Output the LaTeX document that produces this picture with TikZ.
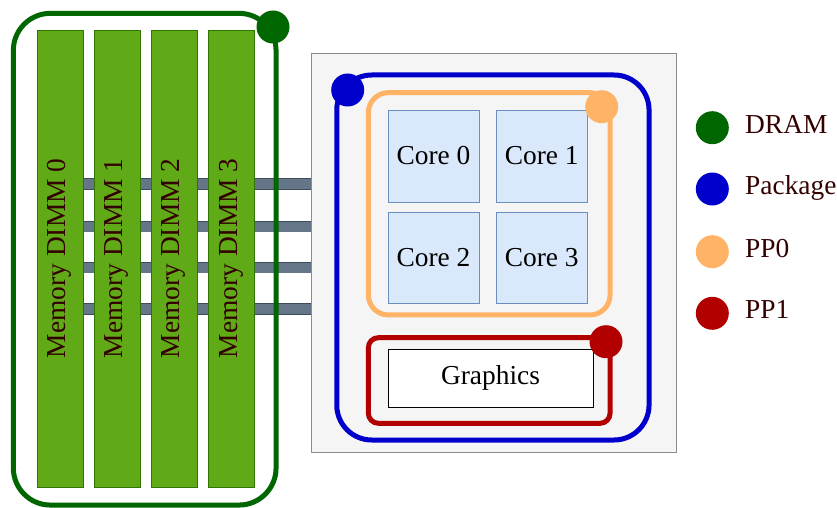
\documentclass[tikz,border=0pt]{standalone}
\usepackage{fontspec}
\setmainfont{Liberation Serif}
\usepackage{tikz}
\usetikzlibrary{shapes,backgrounds,positioning}
\definecolor{dramgreen}{HTML}{006600}
\definecolor{pkgblue}{HTML}{0000CC}
\definecolor{ppzero}{HTML}{FFB366}
\definecolor{ppone}{HTML}{B20000}
\definecolor{dimmfill}{HTML}{60A917}
\definecolor{dimmline}{HTML}{2D7600}
\definecolor{corefill}{HTML}{DAE8FC}
\definecolor{coreline}{HTML}{6C8EBF}
\definecolor{busfill}{HTML}{647687}
\definecolor{busline}{HTML}{3E4B58}
\definecolor{labelbrown}{HTML}{330000}
\tikzset{
  regionbox/.style={ draw, line width=5pt, rectangle, inner sep=0pt, outer sep=0pt }
}
\tikzset{
  dimm/.style={ draw=dimmline, fill=dimmfill, text=labelbrown, rotate=90, inner sep=0pt,
    minimum width=456.7pt, minimum height=46pt }
}
\tikzset{
  core/.style={ draw=coreline, fill=corefill, inner sep=0pt, minimum size=91.6pt }
}
\tikzset{
  dot/.style={ circle, inner sep=0pt, minimum size=33pt }
}
\tikzset{
  bus/.style={ draw=busline, line width=0.8pt, double=busfill, double distance=10pt }
}
\tikzset{
  legtext/.style={ text=labelbrown, inner sep=0pt, anchor=base west }
}

\begin{document}
\begin{tikzpicture}[x=1pt, y=-1pt, font=\fontsize{27.4}{31}\selectfont]
      \useasboundingbox (0,0) rectangle (837,508);

      \node[regionbox, draw=dramgreen, rounded corners=37pt, minimum width=262.7pt, minimum height=491.7pt] (dram) at (144.7, 259.2) {};
      \node[dimm] (dimm0) at (59.7, 258.4) {Memory DIMM 0};
      \node[dimm] (dimm1) at (116.7, 258.4) {Memory DIMM 1};
      \node[dimm] (dimm2) at (173.7, 258.4) {Memory DIMM 2};
      \node[dimm] (dimm3) at (231, 258.4) {Memory DIMM 3};
      \node[dot, fill=dramgreen] (dramdot) at (273, 27) {};

      \node[draw=black!45, fill=black!4, inner sep=0pt, minimum width=365pt, minimum height=398.4pt] (pkg) at (493.2, 252.5) {};
      \node[regionbox, draw=pkgblue, rounded corners=35pt, minimum width=312.3pt, minimum height=365pt] (pkgline) at (492.9, 257.5) {};
      \node[regionbox, draw=ppzero, rounded corners=20pt, minimum width=241.7pt, minimum height=222.3pt] (pp0) at (489.2, 203.8) {};
      \node[regionbox, draw=ppone, rounded corners=10pt, minimum width=241.7pt, minimum height=85.6pt] (pp1) at (489.2, 380.5) {};

      \node[core] (c0) at (433.5, 155.9) {Core 0};
      \node[core] (c1) at (541.7, 155.9) {Core 1};
      \node[core] (c2) at (433.5, 257.8) {Core 2};
      \node[core] (c3) at (541.7, 257.8) {Core 3};
      \node[draw, fill=white, inner sep=0pt, minimum width=205.6pt, minimum height=57.4pt] (gfx) at (490.5, 378) {Graphics};

      \node[dot, fill=pkgblue] (pkgdot) at (347.7, 90) {};
      \node[dot, fill=ppzero] (pp0dot) at (601.7, 106.7) {};
      \node[dot, fill=ppone] (pp1dot) at (606, 341.7) {};

      % memory channels
      \begin{scope}[on background layer]
        \foreach \y [count=\i] in {184, 226.5, 267.5, 309} {
          \coordinate (ch\i) at (dimm0.center |- 0,\y);
          \draw[bus] (ch\i) -- (pkg.west |- ch\i);
        }
      \end{scope}

      % legend
      \node[dot, fill=dramgreen] (lgdram) at (712.3, 127.7) {};
      \node[legtext] at (745, 133.3) {DRAM};
      \node[dot, fill=pkgblue] (lgpkg) at (712.3, 189) {};
      \node[legtext] at (745, 194.6) {Package};
      \node[dot, fill=ppzero] (lgpp0) at (712.3, 251.7) {};
      \node[legtext] at (745, 257.3) {PP0};
      \node[dot, fill=ppone] (lgpp1) at (712.3, 313.3) {};
      \node[legtext] at (745, 318.9) {PP1};
    \end{tikzpicture}
\end{document}
